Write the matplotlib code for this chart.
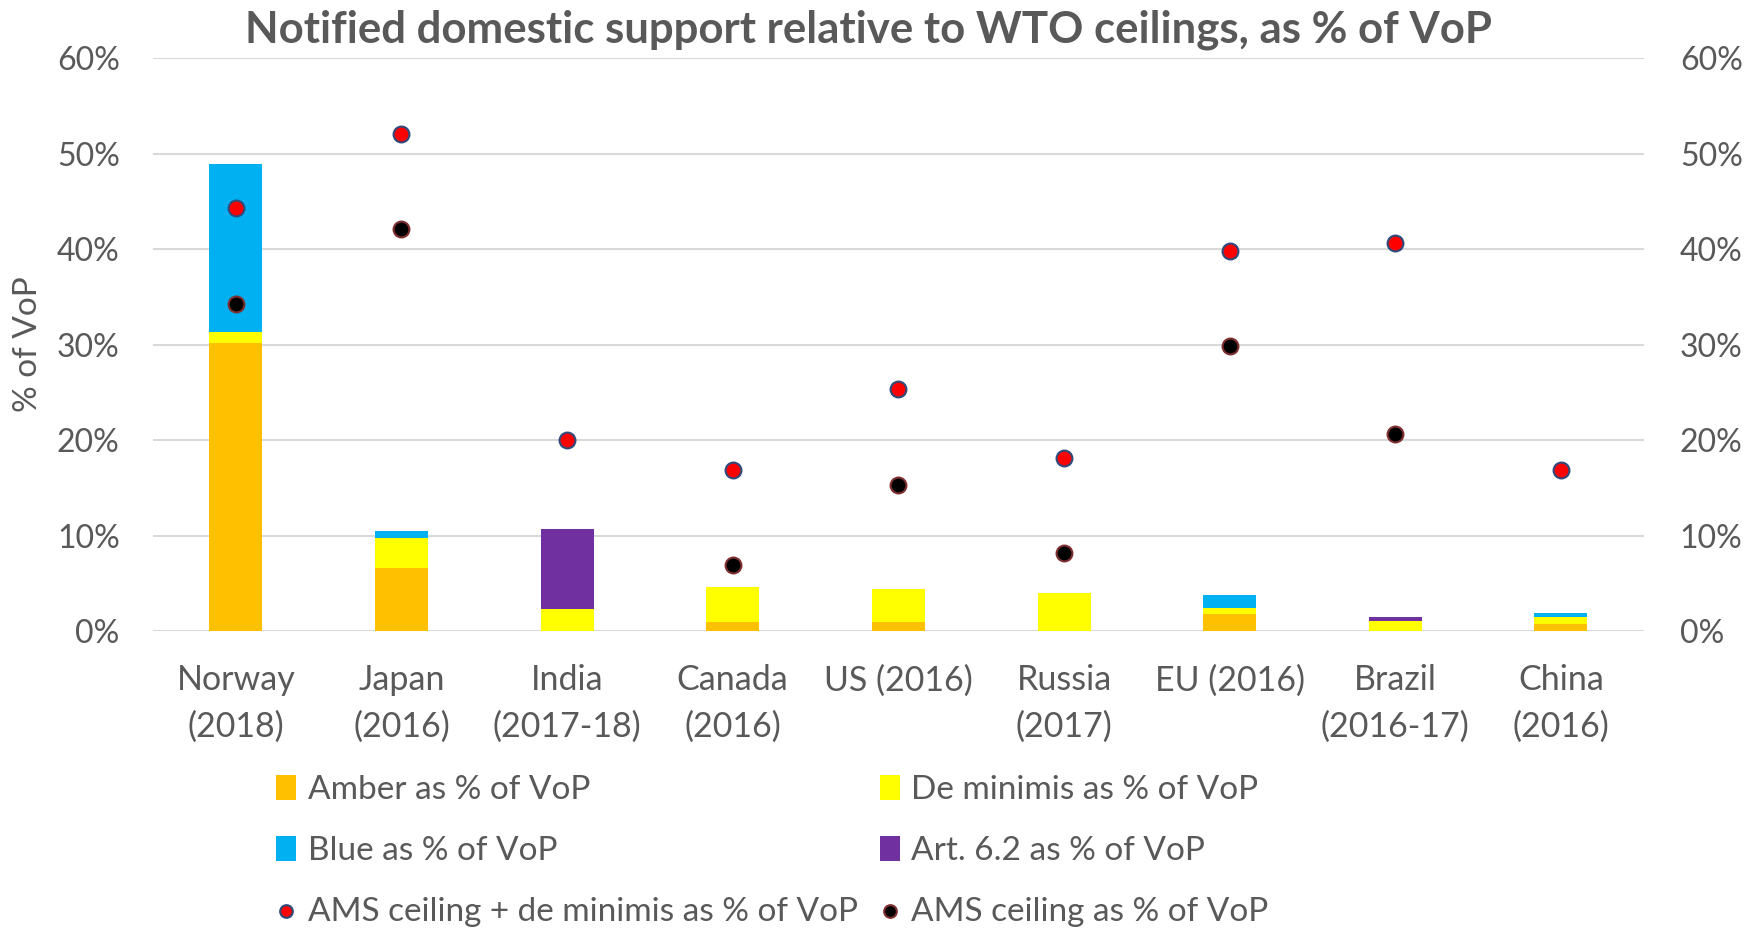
import matplotlib.pyplot as plt
import numpy as np

plt.rcParams['font.family'] = ['Lato', 'DejaVu Sans']

countries = ['Norway\n(2018)', 'Japan\n(2016)', 'India\n(2017-18)', 'Canada\n(2016)', 'US (2016)',
             'Russia\n(2017)', 'EU (2016)', 'Brazil\n(2016-17)', 'China\n(2016)']
amber = [30.2, 6.6, 0.0, 0.95, 0.95, 0.0, 1.8, 0.0, 0.7]
de_minimis = [1.1, 3.1, 2.3, 3.65, 3.45, 4.0, 0.6, 1.1, 0.8]
blue = [17.6, 0.8, 0.0, 0.0, 0.0, 0.0, 1.4, 0.0, 0.4]
art62 = [0.0, 0.0, 8.4, 0.0, 0.0, 0.0, 0.0, 0.4, 0.0]
ams_plus_dm = [44.3, 52.1, 20.0, 16.9, 25.3, 18.1, 39.8, 40.6, 16.9]
ams_ceiling = [34.3, 42.1, np.nan, 6.9, 15.3, 8.2, 29.8, 20.6, np.nan]

c_amber = '#ffc000'
c_yellow = '#ffff00'
c_blue = '#00b0f0'
c_purple = '#7030a0'
grey = '#595959'

fig = plt.figure(figsize=(17.61, 9.30), dpi=100)
ax = fig.add_axes([0.0869, 0.3215, 0.8465, 0.616])

x = np.arange(len(countries))
w = 0.32
amber = np.array(amber)
de_minimis = np.array(de_minimis)
blue = np.array(blue)
art62 = np.array(art62)

b1 = ax.bar(x, amber, w, color=c_amber, zorder=2)
b2 = ax.bar(x, de_minimis, w, bottom=amber, color=c_yellow, zorder=2)
b3 = ax.bar(x, blue, w, bottom=amber + de_minimis, color=c_blue, zorder=2)
b4 = ax.bar(x, art62, w, bottom=amber + de_minimis + blue, color=c_purple, zorder=2)
s1 = ax.scatter(x, ams_plus_dm, s=130, color='#ff0000', edgecolor='#2f4b7c', linewidth=1.5, zorder=3)
s2 = ax.scatter(x, ams_ceiling, s=130, color='black', edgecolor='#7f2f2f', linewidth=1.5, zorder=3)

ax.set_ylim(0, 60)
ax.set_xlim(-0.5, len(countries) - 0.5)
yt = np.arange(0, 61, 10)
ax.set_yticks(yt)
ax.set_yticklabels([f'{v}%' for v in yt])
ax.yaxis.grid(True, color='#d9d9d9', linewidth=1.5, zorder=0)
ax.set_axisbelow(True)
for sp in ax.spines.values():
    sp.set_visible(False)
ax.tick_params(axis='both', length=0, labelsize=23, labelcolor=grey, pad=24)
ax.set_xticks(x)
ax.set_xticklabels(countries, fontsize=24.5, color=grey, linespacing=1.55)
ax.tick_params(axis='x', pad=24)
ax.set_ylabel('% of VoP', fontsize=24, color=grey, labelpad=10)

ax2 = ax.twinx()
ax2.set_ylim(0, 60)
ax2.set_yticks(yt)
ax2.set_yticklabels([f'{v}%' for v in yt])
for sp in ax2.spines.values():
    sp.set_visible(False)
ax2.tick_params(axis='y', length=0, labelsize=23, labelcolor=grey, pad=26)

fig.suptitle('Notified domestic support relative to WTO ceilings, as % of VoP',
             fontsize=31.5, fontweight='bold', color=grey, x=0.493, y=0.99)

handles = [b1, b3, s1, b2, b4, s2]
labels = ['Amber as % of VoP', 'Blue as % of VoP', 'AMS ceiling + de minimis as % of VoP',
          'De minimis as % of VoP', 'Art. 6.2 as % of VoP', 'AMS ceiling as % of VoP']
leg = fig.legend(handles, labels, ncol=2, loc='upper left', bbox_to_anchor=(0.157, 0.167),
                 frameon=False, fontsize=24, labelcolor=grey, handlelength=0.6, handleheight=0.8,
                 handletextpad=0.35, columnspacing=0.65, labelspacing=0.92, borderaxespad=0,
                 borderpad=0, markerscale=0.8)

fig.savefig('out.png', dpi=100)
